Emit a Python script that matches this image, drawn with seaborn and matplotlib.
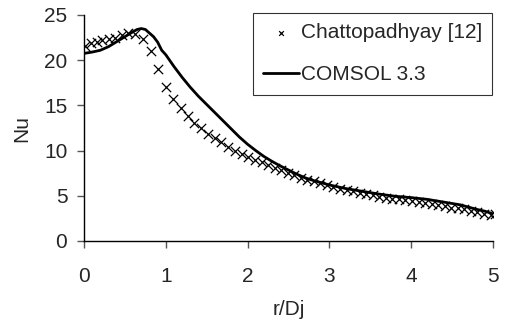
import matplotlib
matplotlib.use("Agg")
import matplotlib.pyplot as plt
import seaborn as sns
import pandas as pd

# Experimental data (Chattopadhyay [12])
exp_x = [0.01, 0.08, 0.155, 0.22, 0.30, 0.38, 0.46, 0.54, 0.62, 0.72, 0.82, 0.91,
         1.00, 1.09, 1.19, 1.27, 1.35, 1.43, 1.51, 1.60, 1.68, 1.76, 1.84, 1.93,
         2.01, 2.09, 2.17, 2.25, 2.33, 2.41, 2.49, 2.57, 2.65, 2.73, 2.81, 2.89,
         2.97, 3.05, 3.13, 3.21, 3.29, 3.37, 3.45, 3.53, 3.61, 3.69, 3.77, 3.85,
         3.93, 4.01, 4.09, 4.17, 4.25, 4.33, 4.41, 4.49, 4.57, 4.65, 4.73, 4.81,
         4.89, 4.97, 5.02]
exp_y = [21.6, 21.9, 22.0, 22.2, 22.3, 22.5, 22.8, 23.0, 22.9, 22.3, 21.05, 19.0,
         17.0, 15.7, 14.7, 13.8, 13.1, 12.5, 11.8, 11.4, 10.9, 10.4, 10.0, 9.6,
         9.3, 9.0, 8.7, 8.4, 8.1, 7.8, 7.5, 7.3, 7.0, 6.8, 6.6, 6.4,
         6.2, 6.0, 5.8, 5.6, 5.5, 5.3, 5.2, 5.1, 4.9, 4.8, 4.7, 4.6,
         4.5, 4.4, 4.3, 4.2, 4.1, 4.0, 3.9, 3.7, 3.6, 3.5, 3.3, 3.2,
         3.0, 2.9, 3.0]

# COMSOL 3.3 simulation
sim_x = [0.0, 0.1, 0.2, 0.3, 0.4, 0.5, 0.6, 0.65, 0.7, 0.75, 0.8, 0.85, 0.9, 0.95,
         1.0, 1.1, 1.2, 1.3, 1.4, 1.5, 1.6, 1.7, 1.8, 1.9, 2.0, 2.1, 2.2, 2.3,
         2.4, 2.5, 2.6, 2.7, 2.8, 2.9, 3.0, 3.2, 3.4, 3.6, 3.8, 4.0, 4.2, 4.4,
         4.6, 4.8, 4.9, 5.0]
sim_y = [20.75, 20.9, 21.1, 21.5, 22.05, 22.6, 23.15, 23.4, 23.5, 23.4, 23.0, 22.6, 22.0, 21.1,
         20.6, 19.3, 18.1, 17.0, 16.0, 15.1, 14.2, 13.3, 12.4, 11.5, 10.7, 10.0, 9.35, 8.8,
         8.3, 7.85, 7.4, 7.0, 6.7, 6.45, 6.2, 5.8, 5.5, 5.2, 4.95, 4.8, 4.6, 4.3,
         4.0, 3.5, 3.3, 3.0]

labels = ["Chattopadhyay [12]", "COMSOL 3.3"]

sns.set_style("white")
plt.rcParams['font.family'] = ['Liberation Sans', 'DejaVu Sans']

fig = plt.figure(figsize=(5.08, 3.22), dpi=100)
ax = fig.add_axes([84/508, 1-241/322, (493-84)/508, (241-15)/322])

df_exp = pd.DataFrame({"x": exp_x, "y": exp_y})
df_sim = pd.DataFrame({"x": sim_x, "y": sim_y})

sns.scatterplot(data=df_exp, x="x", y="y", marker="x", color="black", s=45,
                linewidth=0.9, ax=ax, label=labels[0], zorder=2)
sns.lineplot(data=df_sim, x="x", y="y", color="black", linewidth=2.0, ax=ax,
             label=labels[1], zorder=3)

fs = 15
ax.set_xlim(0, 5)
ax.set_ylim(0, 25)
ax.set_xticks([0, 1, 2, 3, 4, 5])
ax.set_yticks([0, 5, 10, 15, 20, 25])
ax.set_xlabel("r/Dj", fontsize=fs, labelpad=10)
ax.set_ylabel("Nu", fontsize=fs, labelpad=9)
ax.tick_params(axis="both", direction="out", length=5, width=1, color="#555555",
               labelsize=fs, left=True, bottom=True)
ax.tick_params(axis="y", pad=7)
ax.tick_params(axis="x", pad=14)
for s in ["top", "right"]:
    ax.spines[s].set_visible(False)
for s in ["left", "bottom"]:
    ax.spines[s].set_color("black")
    ax.spines[s].set_linewidth(1.0)

leg = ax.legend(loc="upper right", bbox_to_anchor=(0.998, 1.009), borderaxespad=0,
                frameon=True, fancybox=False, edgecolor="black", fontsize=fs,
                handlelength=1.75, handletextpad=0.05, borderpad=0.5, labelspacing=1.1,
                markerscale=0.5)
leg.get_frame().set_linewidth(0.8)

fig.savefig("out.png", dpi=100)
